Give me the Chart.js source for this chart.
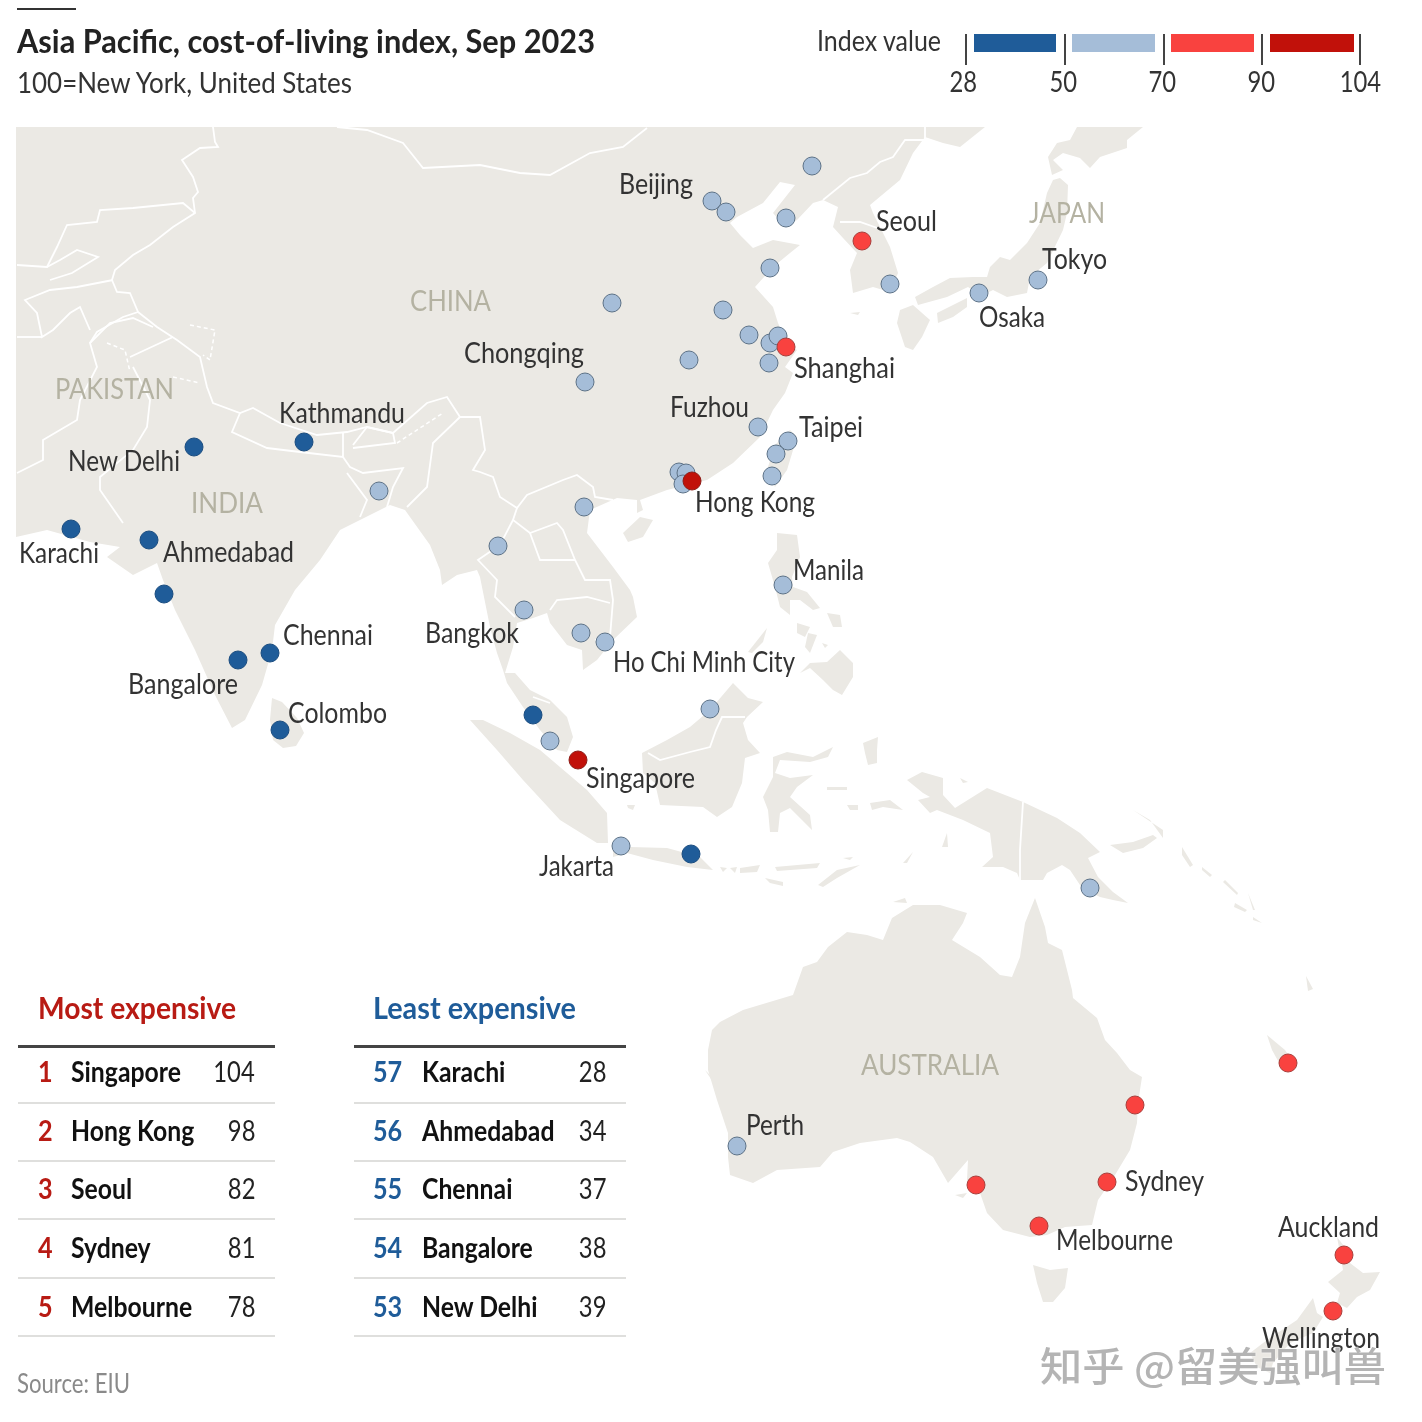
<!DOCTYPE html>
<html>
<head>
<meta charset="utf-8">
<title>Asia Pacific, cost-of-living index, Sep 2023</title>
<script src="https://cdn.jsdelivr.net/npm/chart.js@4"></script>
<style>
  html, body { margin: 0; padding: 0; background: #fff; }
  #page { position: relative; width: 1422px; height: 1422px; overflow: hidden; font-family: Lato, sans-serif; }
  #mapa { position: absolute; left: 0; top: 0; }
  .txt { position: absolute; white-space: nowrap; line-height: 1; }
  .box { position: absolute; }
</style>
</head>
<body>
<div id="page"><canvas id="mapa" width="1422" height="1422"></canvas></div>
<script>
// Cities: map position, index value (ones not in the tables are estimated from their colour band)
const cityNames = ['Karachi','Ahmedabad','Mumbai','Bangalore','Chennai','New Delhi','Kathmandu','Colombo','Penang','Surabaya',
  'Dhaka','Harbin','Beijing','Tianjin','Dalian','Qingdao','Busan','Lanzhou','Zhengzhou','Hefei','Nanjing','Suzhou','Hangzhou','Wuhan','Chongqing','Fuzhou','Taipei','Taichung','Kaohsiung','Foshan','Guangzhou','Shenzhen','Hanoi','Yangon','Bangkok','Phnom Penh','Ho Chi Minh City','Manila','Bandar Seri Begawan','Kuala Lumpur','Jakarta','Port Moresby','Perth','Osaka','Tokyo',
  'Seoul','Shanghai','Brisbane','Sydney','Melbourne','Adelaide','Noumea','Auckland','Wellington','Hong Kong','Singapore'];
const cityX = [71,149,164,238,270,194,304,280,533,691,
  379,812,712,726,786,770,890,612,723,749,770,778,769,689,585,758,788,776,772,679,686,683,584,498,524,581,605,783,710,550,621,1090,737,979,1038,
  862,786,1135,1107,1039,976,1288,1344,1333,692,578];
const cityY = [529,540,594,660,653,447,442,730,715,854,
  491,166,201,212,218,268,284,303,310,335,343,336,363,360,382,427,441,454,476,472,473,484,507,546,610,633,642,585,709,741,846,888,1146,293,280,
  241,347,1105,1182,1226,1185,1063,1255,1311,481,760];
const cityValues = [28,34,42,38,37,39,44,41,46,45,
  52,54,60,58,56,55,60,53,54,55,60,58,59,55,56,55,66,62,60,57,59,63,53,52,60,57,55,60,58,56,54,66,68,62,64,
  82,76,75,81,78,74,72,73,71,98,104];

const bandEdges = ['28','50','70','90','104'];
const bandLimits = [50, 70, 90, 105];

// Tables
const mostRanks = [1,2,3,4,5];
const mostNames = ['Singapore','Hong Kong','Seoul','Sydney','Melbourne'];
const mostValues = [104,98,82,81,78];
const leastRanks = [57,56,55,54,53];
const leastNames = ['Karachi','Ahmedabad','Chennai','Bangalore','New Delhi'];
const leastValues = [28,34,37,38,39];

// Land outlines in map units
const mainland = [[16,127],[985,127],[960,147],[943,143],[925,137],[913,153],[900,180],[870,205],[873,213],[890,247],[898,273],[890,292],[873,287],[853,293],[850,270],[857,253],[843,238],[833,227],[838,207],[823,200],[813,203],[797,220],[785,227],[773,213],[795,185],[780,182],[763,203],[737,217],[730,223],[740,235],[753,248],[773,240],[800,245],[790,253],[773,267],[755,287],[773,307],[778,323],[787,343],[797,350],[785,367],[793,373],[785,393],[773,410],[760,437],[733,463],[707,480],[667,490],[640,500],[643,510],[637,513],[637,500],[617,498],[590,510],[587,533],[613,567],[630,590],[633,597],[637,617],[613,640],[597,660],[583,670],[582,650],[567,645],[550,623],[547,613],[533,618],[517,623],[513,647],[505,673],[515,673],[530,690],[550,700],[567,717],[573,737],[567,752],[557,750],[540,730],[523,707],[507,683],[503,670],[497,653],[490,627],[480,577],[477,570],[457,575],[442,585],[440,570],[430,545],[405,510],[390,505],[340,530],[320,560],[295,590],[275,625],[272,650],[262,685],[245,720],[232,728],[215,695],[195,650],[175,610],[163,580],[157,563],[133,575],[107,557],[120,547],[90,542],[47,530],[16,537]];
const sriLanka = [[272,698],[282,702],[297,718],[304,733],[296,746],[283,748],[273,740],[270,720]];
const jeju = [[850,313],[860,312],[858,315]];
const hokkaido = [[1077,127],[1143,127],[1127,140],[1127,148],[1100,157],[1090,168],[1080,158],[1063,153],[1053,160],[1063,170],[1052,175],[1048,157],[1057,143],[1070,140]];
const honshu = [[1060,178],[1068,185],[1067,213],[1063,230],[1047,263],[1030,277],[1027,293],[1007,297],[993,290],[987,293],[977,293],[968,287],[947,297],[918,305],[915,297],[933,287],[950,278],[973,277],[987,277],[990,267],[1000,257],[1010,260],[1027,243],[1040,223],[1047,193],[1053,180]];
const shikoku = [[937,313],[967,298],[967,307],[953,317],[938,323]];
const kyushu = [[900,310],[913,305],[930,320],[922,337],[913,350],[905,347],[897,323]];
const taiwan = [[790,430],[797,437],[787,470],[775,487],[767,470],[775,445]];
const hainan = [[623,533],[640,517],[653,520],[643,537],[628,542]];
const luzon = [[777,533],[797,535],[800,557],[792,577],[793,587],[807,592],[820,608],[813,610],[800,600],[790,600],[790,615],[780,607],[775,587],[768,563],[777,550]];
const mindanao = [[800,673],[810,663],[827,662],[840,650],[853,663],[853,677],[842,695],[833,690],[823,680],[810,668]];
const panay = [[797,623],[810,627],[805,637],[797,633]];
const negros = [[808,633],[817,635],[810,653],[805,647]];
const samar = [[827,613],[840,615],[842,627],[833,627]];
const leyte = [[822,643],[828,645],[825,648]];
const palawan = [[748,652],[767,628],[763,642],[752,653]];
const borneo = [[642,753],[667,740],[690,727],[710,710],[733,683],[748,698],[763,702],[747,717],[743,723],[748,740],[760,753],[745,758],[742,783],[732,807],[717,817],[703,807],[660,805],[655,783],[643,773]];
const bangka = [[627,805],[635,805],[633,810],[628,808]];
const sumatra = [[470,720],[483,720],[510,733],[540,750],[567,773],[587,790],[607,813],[608,843],[597,843],[560,820],[523,780],[497,750]];
const java = [[613,850],[630,847],[667,848],[700,857],[713,870],[687,867],[653,860],[627,853],[613,857]];
const sulawesi = [[773,757],[787,752],[813,757],[833,747],[828,757],[810,762],[780,760],[775,773],[790,778],[813,775],[797,787],[790,797],[810,815],[812,830],[802,820],[790,808],[780,813],[778,832],[770,832],[768,810],[763,797],[773,777]];
const bali = [[720,867],[727,868],[723,872]];
const lombok = [[730,868],[737,867],[735,873]];
const sumbawa = [[740,868],[760,865],[757,872],[740,873]];
const flores = [[775,867],[820,863],[817,868],[777,871]];
const alor = [[843,858],[853,857],[850,860]];
const sumba = [[765,878],[783,882],[783,886],[770,883]];
const timor = [[818,885],[837,870],[860,865],[837,878],[823,887]];
const halmahera = [[863,743],[878,737],[877,750],[877,763],[868,765],[865,753]];
const seram = [[870,803],[890,800],[903,810],[883,807],[872,810]];
const buru = [[847,805],[858,805],[858,810],[850,810]];
const sula = [[827,787],[847,787],[847,790],[827,790]];
const newGuinea = [[907,780],[922,772],[943,778],[943,795],[955,808],[987,788],[1023,802],[1057,818],[1080,833],[1100,852],[1088,858],[1098,877],[1113,892],[1128,903],[1113,900],[1100,897],[1082,888],[1070,870],[1062,865],[1047,873],[1043,880],[1020,880],[1017,873],[1003,867],[982,867],[993,857],[990,833],[963,820],[937,810],[930,813],[918,800],[930,797],[923,793]];
const biak = [[960,778],[968,782],[963,783]];
const aru = [[942,847],[947,833],[948,847]];
const tanimbar = [[903,863],[913,852],[907,863]];
const newBritain = [[1110,845],[1133,842],[1153,835],[1157,838],[1143,848],[1123,853]];
const newIreland = [[1133,810],[1163,830],[1163,838],[1150,820]];
const bougainville = [[1182,847],[1193,865],[1190,867],[1182,855]];
const solomonsA = [[1202,867],[1212,875],[1210,877],[1202,870]];
const solomonsB = [[1225,880],[1238,893],[1237,895],[1223,882]];
const solomonsC = [[1235,903],[1247,910],[1245,912],[1234,907]];
const solomonsD = [[1248,893],[1255,910],[1253,910]];
const solomonsE = [[1253,917],[1262,923],[1253,920]];
const vanuatu = [[1306,976],[1313,989],[1308,991]];
const newCaledonia = [[1267,1035],[1285,1050],[1297,1068],[1282,1068],[1272,1050]];
const australia = [[708,1050],[712,1030],[720,1022],[743,1010],[793,995],[803,967],[817,962],[828,947],[847,932],[867,935],[883,940],[892,918],[913,905],[940,905],[967,913],[963,923],[952,940],[980,957],[1000,975],[1012,977],[1020,957],[1025,923],[1035,898],[1045,927],[1048,943],[1062,950],[1072,990],[1073,998],[1097,1018],[1105,1040],[1117,1053],[1130,1070],[1142,1077],[1138,1103],[1137,1123],[1130,1150],[1112,1180],[1098,1200],[1092,1225],[1065,1227],[1047,1235],[1030,1237],[1003,1230],[987,1213],[980,1193],[967,1180],[968,1160],[948,1183],[933,1157],[910,1142],[897,1138],[860,1143],[833,1152],[820,1167],[777,1170],[753,1183],[730,1175],[728,1157],[728,1133],[717,1100],[708,1070]];
const kangaroo = [[955,1195],[967,1193],[963,1198]];
const dirkHartog = [[705,1070],[715,1080],[713,1082]];
const melville = [[893,902],[905,898],[907,903]];
const tasmania = [[1033,1265],[1050,1270],[1068,1268],[1065,1288],[1053,1302],[1043,1302],[1037,1283]];
const nzNorth = [[1337,1237],[1347,1250],[1350,1263],[1363,1273],[1380,1272],[1370,1290],[1357,1297],[1347,1308],[1337,1303],[1340,1293],[1328,1282],[1343,1270],[1340,1253]];
const nzSouth = [[1313,1298],[1317,1313],[1323,1317],[1313,1333],[1290,1343],[1273,1363],[1270,1373],[1257,1367],[1250,1353],[1267,1340],[1297,1320]];
const landShapes = [mainland,sriLanka,jeju,hokkaido,honshu,shikoku,kyushu,taiwan,hainan,luzon,mindanao,panay,negros,samar,leyte,palawan,borneo,bangka,sumatra,java,sulawesi,bali,lombok,sumbawa,flores,alor,sumba,timor,halmahera,seram,buru,sula,newGuinea,biak,aru,tanimbar,newBritain,newIreland,bougainville,solomonsA,solomonsB,solomonsC,solomonsD,solomonsE,vanuatu,newCaledonia,australia,kangaroo,dirkHartog,melville,tasmania,nzNorth,nzSouth];

// Country borders
const borderLines = [
  [[213,127],[215,142],[218,147],[200,148],[182,160],[193,177],[198,192],[193,198],[195,213],[173,227],[150,245],[133,255],[115,270],[112,280],[117,292],[130,293],[138,312],[123,317],[97,332],[90,343],[97,367],[80,400],[77,420],[43,440],[43,460],[17,473]],
  [[195,213],[183,203],[133,208],[100,210],[97,222],[67,225],[57,247],[47,267],[17,265]],
  [[113,280],[77,287],[50,290],[25,300],[37,313],[42,337],[53,330],[70,313],[80,307],[90,330]],
  [[17,337],[42,337]],
  [[47,267],[60,260],[77,250],[98,257],[72,273],[50,280]],
  [[138,312],[157,327],[177,340],[200,357],[207,387],[213,403],[240,413],[253,408],[280,423],[317,435],[347,432],[367,427],[393,433],[427,403],[447,397],[460,417],[480,417],[485,450],[473,470],[480,472],[493,477],[500,497],[517,508],[527,495],[563,480],[577,475],[593,487],[595,497],[613,500]],
  [[133,367],[150,400],[147,427],[133,450],[100,477],[100,490],[123,523]],
  [[90,343],[110,323],[133,318],[153,327]],
  [[130,357],[173,337]],
  [[240,413],[232,432],[267,448],[300,452],[343,457],[343,433]],
  [[343,457],[350,467],[363,473],[403,468],[393,487],[387,507]],
  [[347,473],[367,500],[360,517]],
  [[460,417],[433,443],[427,487],[407,507]],
  [[353,445],[367,427],[393,433],[395,443],[353,448]],
  [[337,127],[367,130],[403,143],[423,168],[480,165],[520,173],[550,175],[590,153],[623,147],[647,128]],
  [[925,127],[925,140],[905,140],[893,157],[880,162],[867,173],[850,178],[823,200]],
  [[840,222],[860,222],[883,230]],
  [[517,508],[513,520],[530,533],[557,523],[563,530],[575,560],[585,580],[610,580],[613,600],[610,637],[595,640]],
  [[550,610],[557,600],[587,597],[610,603]],
  [[513,520],[500,545],[478,560],[497,580],[495,597],[515,617]],
  [[530,533],[540,560],[575,560]],
  [[533,697],[550,703]],
  [[648,753],[660,760],[690,752],[710,747],[716,730],[722,717],[745,717]],
  [[1023,802],[1020,850],[1020,880]]
];
const disputedLines = [
  [[107,343],[125,350],[130,372]],
  [[190,325],[215,330],[210,360],[203,355]],
  [[173,377],[200,383]],
  [[397,443],[443,413]]
];

const bandColors = ['#1f5c99', '#a5bdd8', '#f9423f', '#c1110a'];
const bandBorders = ['#1b4d80', '#5d7287', '#a83f3c', '#8d1d18'];

function bandOf(v) {
  return bandLimits.findIndex(l => v <= l);
}

const datasets = [];
// lower order is painted last, so the hot cities stay on top
[3, 2, 1, 0].forEach((band, i) => {
  const pts = [];
  cityValues.forEach((v, k) => {
    if (bandOf(v) === band) pts.push({ x: cityX[k], y: cityY[k], name: cityNames[k], value: v });
  });
  datasets.push({
    label: 'band ' + bandEdges[band], data: pts, order: i,
    backgroundColor: bandColors[band], borderColor: bandBorders[band],
    borderWidth: 1, pointRadius: 9, showLine: false
  });
});
borderLines.forEach(line => datasets.push({
  data: line, order: 10, showLine: true, pointRadius: 0, borderColor: '#fff', borderWidth: 1.8, fill: false
}));
disputedLines.forEach(line => datasets.push({
  data: line, order: 10, showLine: true, pointRadius: 0, borderColor: '#fff', borderWidth: 1.5, borderDash: [4, 3], fill: false
}));
landShapes.forEach(shape => datasets.push({
  data: shape.concat([shape[0]]), order: 20, showLine: true, pointRadius: 0, borderWidth: 0,
  borderColor: '#ebe9e4', backgroundColor: '#ebe9e4', fill: 'shape'
}));

const chart = new Chart(document.getElementById('mapa').getContext('2d'), {
  type: 'scatter',
  data: { datasets },
  options: {
    responsive: false,
    animation: false,
    devicePixelRatio: 1,
    layout: { padding: 0, autoPadding: false },
    plugins: { legend: { display: false }, tooltip: { enabled: false } },
    scales: {
      x: { type: 'linear', min: 0, max: 1422, display: false },
      y: { type: 'linear', min: 0, max: 1422, reverse: true, display: false }
    }
  }
});

// Text and furniture outside the map marks
const page = document.getElementById('page');

function put(text, x, y, o) {
  const el = document.createElement('div');
  el.className = 'txt';
  el.textContent = text;
  el.style.fontSize = o.size + 'px';
  el.style.fontWeight = o.weight || 400;
  el.style.color = o.color || '#333';
  if (o.family) el.style.fontFamily = o.family;
  page.appendChild(el);
  const w = el.getBoundingClientRect().width;
  const h = el.getBoundingClientRect().height;
  const sx = o.to ? (o.to - x) / w : (o.scale || 1);
  el.style.top = (y - h / 2 - 1) + 'px';
  if (o.align === 'right') {
    el.style.left = (x - w) + 'px';
    el.style.transformOrigin = 'right center';
  } else if (o.align === 'center') {
    el.style.left = (x - w / 2) + 'px';
    el.style.transformOrigin = 'center center';
  } else {
    el.style.left = x + 'px';
    el.style.transformOrigin = 'left center';
  }
  el.style.transform = 'scaleX(' + sx + ')';
  return el;
}

function box(x, y, w, h, color) {
  const el = document.createElement('div');
  el.className = 'box';
  el.style.cssText = `left:${x}px;top:${y}px;width:${w}px;height:${h}px;background:${color}`;
  page.appendChild(el);
}

const sx = v => chart.scales.x.getPixelForValue(v);
const sy = v => chart.scales.y.getPixelForValue(v);

// label, left, right, middle
const cityLabels = [
  ['Beijing',619,693,184],['Seoul',876,937,221],['Tokyo',1042,1107,259],['Osaka',979,1045,317],['Shanghai',794,895,368],
  ['Chongqing',464,584,353],['Fuzhou',670,749,407],['Taipei',799,863,427],['Hong Kong',695,815,502],['Kathmandu',279,405,413],
  ['New Delhi',68,180,461],['Karachi',19,99,553],['Ahmedabad',163,294,552],['Chennai',283,373,635],['Bangalore',128,238,684],
  ['Colombo',288,387,713],['Bangkok',425,519,633],['Manila',793,864,570],['Ho Chi Minh City',613,795,662],['Singapore',586,695,778],
  ['Jakarta',539,614,866],['Perth',746,804,1125],['Sydney',1125,1204,1181],['Melbourne',1056,1173,1240],['Auckland',1278,1379,1227],
  ['Wellington',1262,1380,1338]
];
cityLabels.forEach(l => put(l[0], sx(l[1]), sy(l[3]), { size: 28, to: sx(l[2]) }));

const countryLabels = [
  ['CHINA',410,491,301],['PAKISTAN',55,174,389],['INDIA',191,263,503],['JAPAN',1029,1105,213],['AUSTRALIA',861,999,1065]
];
countryLabels.forEach(l => put(l[0], sx(l[1]), sy(l[3]), { size: 28, to: sx(l[2]), color: '#b4b2a2' }));

// Header
box(17, 8, 59, 2, '#333');
put('Asia Pacific, cost-of-living index, Sep 2023', 17, 41, { size: 33, weight: 700, to: 595, color: '#222' });
put('100=New York, United States', 17, 83, { size: 28, to: 352, color: '#333' });

// Colour key
put('Index value', 817, 41, { size: 28, to: 941, color: '#333' });
[[974,82],[1072,83],[1171,83],[1270,84]].forEach((b, i) => box(b[0], 34, b[1], 18, bandColors[i]));
[966,1065,1164,1262,1360].forEach(x => box(x - 1, 34, 2, 31, '#444'));
[963,1063,1162,1261,1360].forEach((x, i) => put(bandEdges[i], x, 82, { size: 28, align: 'center', scale: 0.85, color: '#333' }));

// Ranking tables
const rowY = [1072,1131,1189,1248,1307];
const lineY = [1103,1161,1219,1278,1336];

function table(title, color, ranks, names, values, left, right, rankX, nameX, valueX, titleEnd) {
  put(title, rankX, 1008, { size: 31, weight: 700, to: titleEnd, color });
  box(left, 1045, right - left, 3, '#444');
  lineY.forEach(y => box(left, y - 1, right - left, 2, '#dfdfdd'));
  names.forEach((n, i) => {
    put(String(ranks[i]), rankX, rowY[i], { size: 28, weight: 700, scale: 0.9, color });
    put(n, nameX, rowY[i], { size: 28, weight: 700, scale: 0.885, color: '#111' });
    put(String(values[i]), valueX, rowY[i], { size: 28, align: 'right', scale: 0.85, color: '#222' });
  });
}
table('Most expensive', '#b81b14', mostRanks, mostNames, mostValues, 18, 275, 38, 71, 255, 236);
table('Least expensive', '#1f5c99', leastRanks, leastNames, leastValues, 354, 626, 373, 422, 606, 576);

put('Source: EIU', 17, 1384, { size: 26, to: 130, color: '#8a8a8a' });

// Site watermark
const mark = put('知乎 @留美强叫兽', 1040, 1365, { size: 40, weight: 500, to: 1386, color: '#b4b4b4', family: '"Noto Sans CJK SC"' });
mark.style.textShadow = '0 0 2px #fff';
</script>
</body>
</html>
